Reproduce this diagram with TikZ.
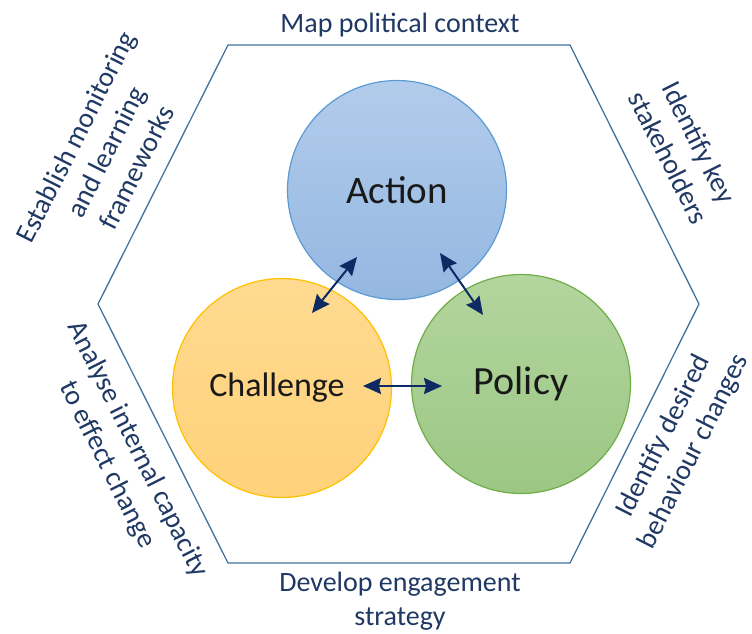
\documentclass[tikz,border=0pt]{standalone}
\usepackage{fontspec}
\setmainfont{Carlito}
\usetikzlibrary{arrows.meta,calc}
\definecolor{navy}{HTML}{1F3864}
\definecolor{hexline}{HTML}{41719C}
\definecolor{arrowblue}{HTML}{0E2A63}
\definecolor{actionedge}{HTML}{5B9BD5}
\definecolor{actiontop}{HTML}{B2CCEB}
\definecolor{actionbot}{HTML}{94B7E1}
\definecolor{challengeedge}{HTML}{FFC000}
\definecolor{challengetop}{HTML}{FFDA90}
\definecolor{challengebot}{HTML}{FFD27A}
\definecolor{policyedge}{HTML}{70AD47}
\definecolor{policytop}{HTML}{B3D59E}
\definecolor{policybot}{HTML}{9CC784}
\begin{document}
\begin{tikzpicture}[x=1pt,y=-1pt,
    ring/.style={circle,minimum size=219pt,inner sep=0pt,line width=1.2pt,text=black!90},
    side/.style={text=navy,font=\fontsize{28}{34}\selectfont,align=center},
    twoway/.style={{Stealth[length=18pt,width=16pt,inset=2pt]}-{Stealth[length=18pt,width=16pt,inset=2pt]},line width=2pt,arrowblue}]
    \useasboundingbox (0,0) rectangle (752,633);
    % hexagon
    \coordinate (h1) at (228,45);
    \coordinate (h2) at (570,45);
    \coordinate (h3) at (699,304);
    \coordinate (h4) at (570,563);
    \coordinate (h5) at (228,563);
    \coordinate (h6) at (98,304);
    \draw[hexline,line width=1.3pt] (h1) -- (h2) -- (h3) -- (h4) -- (h5) -- (h6) -- cycle;
    % circles
    \node[ring,draw=actionedge,top color=actiontop,bottom color=actionbot,font=\fontsize{39}{44}\selectfont] (action) at (397,190) {Action};
    \node[ring,draw=challengeedge,top color=challengetop,bottom color=challengebot,font=\fontsize{34}{40}\selectfont] (challenge) at (282,388) {Challenge\hspace*{10pt}};
    \node[ring,draw=policyedge,top color=policytop,bottom color=policybot,font=\fontsize{40}{46}\selectfont] (policy) at (521,384) {Policy};
    % arrows
    \coordinate (ac1) at ($(action)+(-40,67)$);
    \coordinate (ac2) at ($(challenge)+(30,-75)$);
    \coordinate (ap1) at ($(action)+(43,63)$);
    \coordinate (ap2) at ($(policy)+(-38,-69)$);
    \coordinate (cp1) at ($(challenge)+(81,-2)$);
    \coordinate (cp2) at ($(policy)+(-79,2)$);
    \draw[twoway] (ac1) -- (ac2);
    \draw[twoway] (ap1) -- (ap2);
    \draw[twoway] (cp1) -- (cp2);
    % labels round the hexagon
    \node[side] (context) at (400,25) {Map political context};
    \node[side,rotate=-63.3] (stake) at (684,150) {Identify key\\stakeholders};
    \node[side,rotate=63.3] (behaviour) at (679,444) {Identify desired\\behaviour changes};
    \node[side] (engage) at (400,601) {Develop engagement\\strategy};
    \node[side,rotate=-63.3] (capacity) at (122,457) {Analyse internal capacity\\to effect change};
    \node[side,rotate=63.3] (monitor) at (106,152) {Establish monitoring\\and learning\\frameworks};
\end{tikzpicture}
\end{document}
